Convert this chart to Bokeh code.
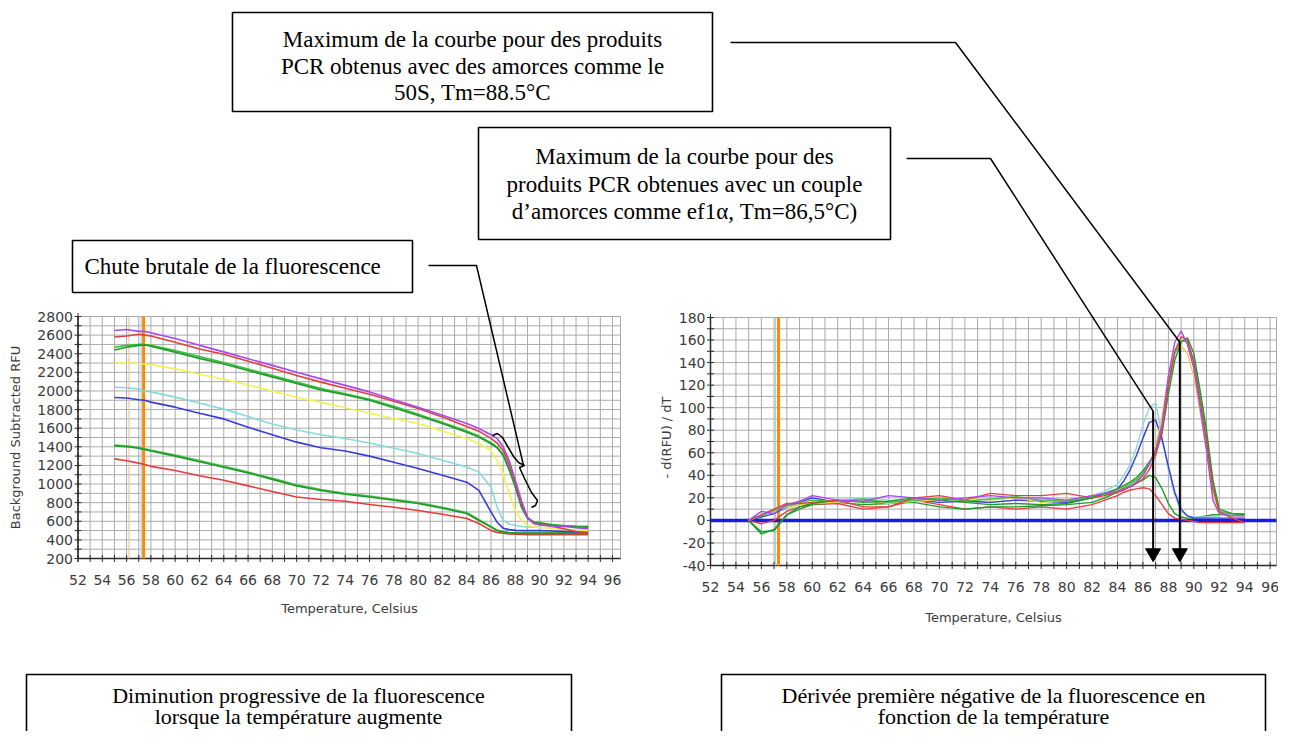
import numpy as np
from bokeh.plotting import figure
from bokeh.models import Range1d
from bokeh.core.properties import value
from bokeh.embed import file_html
from bokeh.resources import INLINE

# ---------------- data ----------------
# Left chart: melt curves (Background Subtracted RFU vs temperature)
TL = [55, 56, 57, 57.5, 58, 60, 62, 64, 66, 68, 70, 72, 74, 76, 78, 80, 82, 84, 85, 86,
      86.5, 87, 87.5, 88, 88.5, 89, 89.5, 90, 91, 92, 93, 94]
rfu_purple = [2650, 2660, 2640, 2640, 2625, 2563, 2490, 2420, 2345, 2275, 2200, 2130, 2060, 1990, 1905, 1826,
              1740, 1650, 1597, 1530, 1490, 1400, 1250, 1040, 823, 644, 576, 560, 550, 545, 530, 520]
rfu_red_hi = [2580, 2590, 2610, 2600, 2590, 2524, 2450, 2395, 2320, 2245, 2166, 2095, 2030, 1965, 1890, 1812,
              1720, 1619, 1568, 1490, 1440, 1361, 1210, 1020, 791, 641, 580, 566, 548, 520, 490, 470]
rfu_green_hi = [2440, 2470, 2490, 2495, 2480, 2417, 2350, 2290, 2220, 2150, 2080, 2010, 1960, 1900, 1820, 1737,
                1650, 1557, 1504, 1433, 1390, 1307, 1150, 967, 752, 630, 590, 580, 560, 550, 540, 537]
rfu_lime_hi = [2470, 2490, 2500, 2500, 2490, 2435, 2370, 2305, 2235, 2165, 2095, 2025, 1970, 1910, 1835, 1750,
               1662, 1570, 1515, 1445, 1400, 1320, 1170, 985, 770, 640, 595, 585, 565, 555, 548, 545]
rfu_yellow = [2300, 2300, 2295, 2290, 2280, 2238, 2180, 2125, 2065, 2000, 1930, 1880, 1820, 1760, 1705, 1650,
              1570, 1490, 1436, 1361, 1253, 1114, 899, 716, 609, 555, 540, 534, 525, 515, 510, 502]
rfu_cyan = [2040, 2035, 2020, 2000, 1990, 1934, 1870, 1805, 1725, 1645, 1580, 1530, 1490, 1440, 1385, 1328,
            1255, 1182, 1128, 967, 752, 609, 570, 555, 545, 540, 536, 534, 525, 515, 505, 502]
rfu_blue = [1930, 1925, 1905, 1900, 1880, 1826, 1760, 1700, 1610, 1530, 1450, 1390, 1355, 1300, 1235, 1167,
            1095, 1020, 931, 700, 590, 526, 510, 502, 500, 500, 500, 500, 495, 490, 485, 483]
rfu_green_lo = [1410, 1400, 1385, 1370, 1355, 1300, 1240, 1180, 1120, 1050, 980, 930, 890, 860, 825, 791,
                740, 684, 609, 537, 500, 483, 475, 470, 470, 470, 470, 470, 470, 470, 470, 470]
rfu_green_lo2 = [1420, 1410, 1395, 1380, 1365, 1312, 1252, 1192, 1130, 1062, 992, 942, 900, 870, 835, 800,
                 750, 695, 620, 545, 505, 488, 480, 476, 475, 475, 475, 475, 475, 475, 475, 475]
rfu_red_lo = [1270, 1250, 1225, 1210, 1190, 1146, 1090, 1040, 980, 920, 860, 834, 815, 780, 750, 716,
              675, 630, 576, 502, 480, 473, 465, 460, 458, 457, 456, 456, 455, 455, 455, 455]

# Right chart: negative first derivative -d(RFU)/dT
TR = [55, 56, 57, 58, 59, 60, 62, 64, 66, 68, 70, 72, 74, 76, 78, 80, 82, 83, 84, 84.5, 85, 85.5, 86,
      86.5, 87, 87.5, 88, 88.5, 89, 89.5, 90, 90.5, 91, 91.5, 92, 93, 94]
d_purple = [0, 8, 6, 14, 17, 22, 18, 17, 22, 20, 18, 20, 22, 20, 20, 18, 22, 24, 26, 28, 30, 34, 40,
            50, 62, 85, 128, 158, 168, 156, 135, 100, 62, 18, 6, 4, 4]
d_red = [0, 5, 10, 15, 15, 16, 18, 12, 12, 20, 22, 18, 24, 22, 22, 24, 20, 22, 25, 27, 30, 33, 37,
         45, 58, 78, 120, 150, 163, 160, 140, 105, 70, 28, 8, 2, -2]
d_green = [0, -12, -8, 5, 12, 15, 18, 16, 17, 20, 18, 16, 14, 15, 14, 15, 20, 24, 28, 31, 34, 38, 44,
           52, 60, 78, 112, 142, 158, 162, 148, 115, 80, 36, 10, 6, 5]
d_lime = [0, 4, 9, 13, 16, 18, 17, 19, 16, 18, 20, 17, 19, 21, 18, 17, 21, 23, 26, 29, 32, 36, 42,
          50, 62, 84, 120, 148, 160, 158, 142, 110, 74, 32, 8, 6, 6]
d_yellow = [0, 5, 8, 12, 14, 15, 16, 18, 15, 17, 18, 20, 18, 20, 16, 18, 22, 24, 27, 30, 33, 36, 40,
            50, 66, 92, 128, 150, 155, 148, 128, 96, 62, 26, 6, 4, 4]
d_blue = [0, 3, 6, 12, 16, 20, 16, 18, 15, 18, 16, 17, 16, 18, 17, 16, 20, 24, 28, 35, 45, 58, 73,
          87, 89, 72, 48, 25, 10, 4, 2, 2, 2, 2, 2, 2, 2]
d_cyan = [0, 5, 8, 10, 14, 16, 18, 20, 18, 17, 20, 18, 16, 18, 19, 17, 22, 26, 32, 40, 50, 65, 85,
          100, 104, 75, 45, 22, 8, 4, 3, 3, 3, 3, 4, 5, 5]
d_green_lo = [0, -10, -9, 5, 10, 14, 16, 14, 15, 16, 12, 10, 12, 12, 13, 14, 16, 20, 25, 28, 30, 33, 36,
              40, 38, 28, 15, 6, 3, 2, 2, 3, 4, 5, 5, 6, 6]
d_red_lo = [0, -3, 0, 8, 12, 14, 15, 10, 12, 18, 14, 10, 12, 10, 12, 10, 14, 18, 22, 25, 27, 28, 29,
            28, 22, 14, 6, 2, 1, 0, -1, -2, -2, -2, -2, -2, -2]

x_ticks = list(range(52, 97, 2))
left_y_ticks = list(range(200, 2801, 200))
right_y_ticks = list(range(-40, 181, 20))
threshold_T = 57.4          # orange vertical marker
tm_50s, tm_50s_peak = 88.9, 158    # Tm=88.5 annotation target
tm_ef1, tm_ef1_peak = 86.8, 97     # Tm=86.5 annotation target

# ---------------- figure (picture coordinates) ----------------
W, H = 1278, 731
p = figure(width=W, height=H, x_range=Range1d(0, W), y_range=Range1d(H, 0),
           output_backend="svg", toolbar_location=None, min_border=0,
           x_axis_location=None, y_axis_location=None)
p.grid.visible = False
p.outline_line_color = None

TICK_FONT = value("DejaVu Sans")
SERIF = value("Liberation Serif")
GRID_C = "#a9a9a9"
AX_C = "#2b2b2b"
LAB_C = "#3c3c3c"

# geometry of the two panels (pixels)
LX = (77.5, 620.0); LY = (558.0, 316.0); LT = (52.0, 96.66); LV = (200.0, 2800.0)
RX = (710.0, 1276.0); RY = (565.0, 317.0); RT = (52.0, 96.5); RV = (-40.0, 180.0)

L = p.subplot(x_source=Range1d(*LT), y_source=Range1d(*LV),
              x_target=Range1d(*LX), y_target=Range1d(*LY))
R = p.subplot(x_source=Range1d(*RT), y_source=Range1d(*RV),
              x_target=Range1d(*RX), y_target=Range1d(*RY))


def panel(S, T0, T1, V0, V1, vstep, yticks):
    xs = list(range(int(T0), int(T1) + 1)) + [T1]
    S.segment(x0=xs, y0=[V0] * len(xs), x1=xs, y1=[V1] * len(xs), line_color=GRID_C, line_width=1)
    ys = list(np.arange(V0, V1 + 0.1, vstep))
    S.segment(x0=[T0] * len(ys), y0=ys, x1=[T1] * len(ys), y1=ys, line_color=GRID_C, line_width=1)
    S.line([T0, T1], [V0, V0], line_color=AX_C, line_width=1.5)
    S.line([T0, T0], [V0, V1], line_color=AX_C, line_width=1.5)
    tx = list(range(int(T0), int(T1) + 1))
    S.scatter(x=tx, y=[V0] * len(tx), marker="cross", size=7, line_color=AX_C, line_width=1)
    S.scatter(x=[T0] * len(ys), y=ys, marker="cross", size=7, line_color=AX_C, line_width=1)
    S.text(x=x_ticks, y=[V0] * len(x_ticks), text=[str(t) for t in x_ticks], y_offset=21,
           text_align="center", text_baseline="middle", text_font=TICK_FONT,
           text_font_size="14px", text_color=LAB_C)
    S.text(x=[T0] * len(yticks), y=yticks, text=[str(t) for t in yticks], x_offset=-5,
           text_align="right", text_baseline="middle", text_font=TICK_FONT,
           text_font_size="14px", text_color=LAB_C)


panel(L, LT[0], LT[1], LV[0], LV[1], 100, left_y_ticks)
panel(R, RT[0], RT[1], RV[0], RV[1], 10, right_y_ticks)

# threshold / marker lines
L.line([56.2, 56.2], [LV[0], LV[1]], line_color="#e8c8a0", line_width=1.2)
L.line([57.2, 57.2], [LV[0], LV[1]], line_color="#a8d0f0", line_width=1.2)
L.line([threshold_T, threshold_T], [LV[0], LV[1]], line_color="#ff8a00", line_width=3)
R.line([57.1, 57.1], [RV[0], RV[1]], line_color="#a8d0f0", line_width=1.2)
R.line([threshold_T - 0.05, threshold_T - 0.05], [RV[0], RV[1]], line_color="#ff8a00", line_width=3)

# zero line of derivative panel
R.line([RT[0], RT[1]], [0, 0], line_color="#1a1ae0", line_width=3.5)

left_series = [
    (rfu_red_lo, "#e83a3a"), (rfu_green_lo2, "#4cc04c"), (rfu_green_lo, "#1f9a2a"),
    (rfu_blue, "#3a3ad8"), (rfu_cyan, "#86dada"), (rfu_yellow, "#f2f250"),
    (rfu_lime_hi, "#38c038"), (rfu_green_hi, "#1f9a2a"), (rfu_red_hi, "#e04040"),
    (rfu_purple, "#a848f0"),
]
for ys, c in left_series:
    L.line(TL, ys, line_color=c, line_width=1.6)

right_series = [
    (d_red_lo, "#e84040"), (d_green_lo, "#1f9a2a"), (d_cyan, "#8ad8e0"), (d_blue, "#3a3ad8"),
    (d_yellow, "#e8d040"), (d_lime, "#40c840"), (d_green, "#1f9a2a"), (d_red, "#e04040"),
    (d_purple, "#a848f0"),
]
for ys, c in right_series:
    R.line(TR, ys, line_color=c, line_width=1.4)

# axis titles
p.text(x=[15], y=[437], text=["Background Subtracted RFU"], angle=np.pi / 2, text_align="center",
       text_baseline="middle", text_font=TICK_FONT, text_font_size="13px", text_color=LAB_C)
p.text(x=[349], y=[608], text=["Temperature, Celsius"], text_align="center", text_baseline="middle",
       text_font=TICK_FONT, text_font_size="13px", text_color=LAB_C)
p.text(x=[666], y=[437], text=["- d(RFU) / dT"], angle=np.pi / 2, text_align="center",
       text_baseline="middle", text_font=TICK_FONT, text_font_size="13px", text_color=LAB_C)
p.text(x=[993], y=[617], text=["Temperature, Celsius"], text_align="center", text_baseline="middle",
       text_font=TICK_FONT, text_font_size="13px", text_color=LAB_C)


def rpx(T):
    return RX[0] + (T - RT[0]) * (RX[1] - RX[0]) / (RT[1] - RT[0])


def rpy(v):
    return RY[0] + (v - RV[0]) * (RY[1] - RY[0]) / (RV[1] - RV[0])


# ---------------- annotation boxes ----------------
def box(l, r, t, b):
    p.quad(left=[l], right=[r], top=[t], bottom=[b], fill_color=None, line_color="black", line_width=1.6)


def lines(cx, ys, texts, align="center", size="23px"):
    p.text(x=[cx] * len(texts), y=ys, text=texts, text_align=align, text_baseline="middle",
           text_font=SERIF, text_font_size=size, text_color="black")


box(232, 712, 12, 111)
lines(472, [39, 66, 92], ["Maximum de la courbe pour des produits",
                          "PCR obtenus avec des amorces comme le", "50S, Tm=88.5°C"])
box(478, 890, 127, 239)
lines(684, [156, 184, 211], ["Maximum de la courbe pour des",
                             "produits PCR obtenues avec un couple",
                             "d\u2019amorces comme ef1\u03b1, Tm=86,5°C)"])
box(72, 412, 240, 292)
lines(84, [266], ["Chute brutale de la fluorescence"], align="left")
box(26, 571, 674, 760)
lines(298, [695, 716], ["Diminution progressive de la fluorescence",
                        "lorsque la température augmente"], size="22px")
box(721, 1265, 674, 760)
lines(993, [695, 716], ["Dérivée première négative de la fluorescence en",
                        "fonction de la température"], size="22px")

# connectors
p.line([730, 955, rpx(tm_50s)], [42, 42, rpy(tm_50s_peak)], line_color="black", line_width=1.5)
p.line([906, 990, rpx(tm_ef1)], [158, 158, rpy(tm_ef1_peak)], line_color="black", line_width=1.5)
p.line([428, 476, 523], [265, 265, 465], line_color="black", line_width=1.5)
# curly brace on the steep drop
p.line([492, 497, 502, 513, 518, 524, 519, 524, 531, 537, 535, 531],
       [435, 433, 437, 456, 462, 465, 467, 478, 492, 500, 505, 507], line_color="black", line_width=1.5)

# vertical arrows pointing to the Tm on the temperature axis
for T, pk in [(tm_50s, tm_50s_peak), (tm_ef1, tm_ef1_peak)]:
    R.line([T, T], [pk, -30], line_color="black", line_width=2)
    R.scatter(x=[T], y=[-29], marker="inverted_triangle", size=15, fill_color="black", line_color="black")

open("out.html", "w").write(file_html(p, INLINE))
